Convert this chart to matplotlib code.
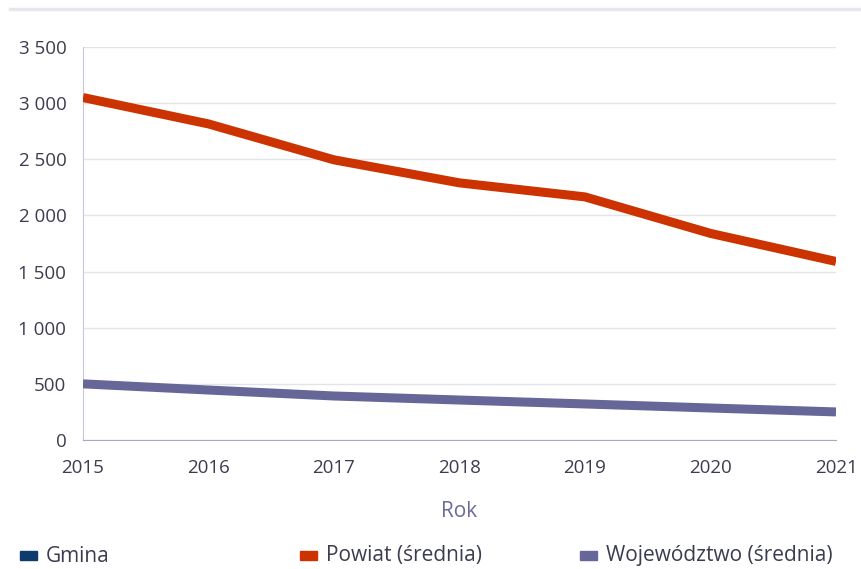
import matplotlib.pyplot as plt
from matplotlib.lines import Line2D
from matplotlib.patches import Rectangle

plt.rcParams['font.family'] = ['Open Sans', 'DejaVu Sans']

years = [2015, 2016, 2017, 2018, 2019, 2020, 2021]
powiat = [3050, 2815, 2495, 2290, 2165, 1840, 1590]
wojewodztwo = [500, 445, 392, 356, 321, 285, 250]
series_names = ['Gmina', 'Powiat (średnia)', 'Województwo (średnia)']
series_colors = ['#0d3b6e', '#cc3300', '#666699']
yticks = [0, 500, 1000, 1500, 2000, 2500, 3000, 3500]

W, H = 862, 569
fig = plt.figure(figsize=(W / 100, H / 100), dpi=100)
ax = fig.add_axes([83 / W, 1 - 440 / H, (836 - 83) / W, (440 - 47) / H])

ax.plot(years, powiat, color=series_colors[1], lw=6.5, solid_capstyle='butt', zorder=3)
ax.plot(years, wojewodztwo, color=series_colors[2], lw=6.5, solid_capstyle='butt', zorder=3)

ax.set_xlim(2015, 2021)
ax.set_ylim(0, 3500)
ax.set_xticks(years)
ax.set_yticks(yticks)
ax.set_yticklabels([f'{v:,}'.replace(',', ' ') for v in yticks])
ax.grid(axis='y', color='#e3e3ea', lw=1)
ax.set_axisbelow(True)
for s in ['top', 'right']:
    ax.spines[s].set_visible(False)
ax.spines['left'].set_color('#c8c8da')
ax.spines['bottom'].set_color('#a8a8c8')
ax.tick_params(length=0, labelsize=13.5, labelcolor='#3c3c50')
ax.tick_params(axis='y', pad=12)
ax.tick_params(axis='x', pad=14)
ax.set_xlabel('Rok', fontsize=15, color='#6b6b9b', labelpad=17)

# top separator
fig.add_artist(Line2D([10 / W, 1], [1 - 9 / H] * 2, color='#e6e6ee', lw=2.5))

# legend row
leg_x = [20, 300, 580]
for x, name, c in zip(leg_x, series_names, series_colors):
    fig.add_artist(Rectangle((x / W, 1 - 560 / H), 17 / W, 9 / H, color=c))
    fig.text((x + 26) / W, 1 - 556 / H, name, fontsize=15, color='#3c3c50', va='center')

fig.savefig('out.png', dpi=100)
